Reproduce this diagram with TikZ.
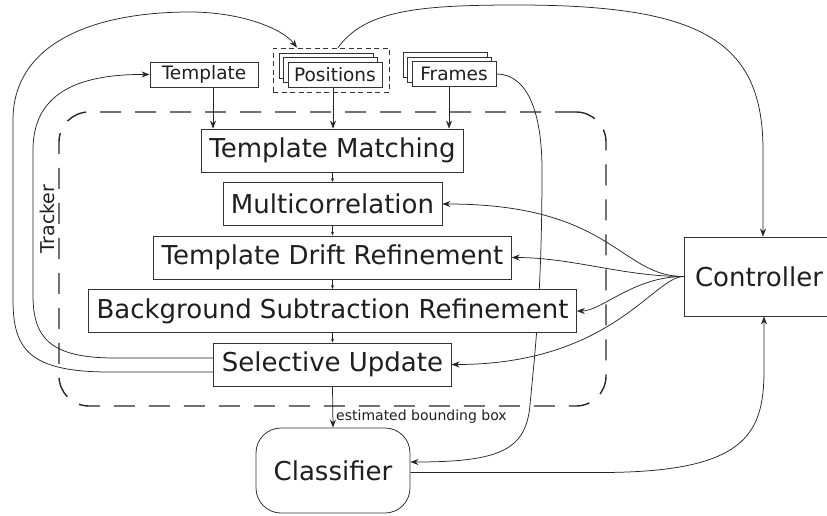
\documentclass[tikz,border=0pt]{standalone}
\usepackage{fontspec}
\setmainfont{DejaVu Sans}
\usetikzlibrary{arrows.meta,shadows,backgrounds}

\begin{document}
\begin{tikzpicture}[x=1pt,y=-1pt,
  stage/.style={draw=black!80, fill=white, line width=0.8pt, minimum height=43pt,
    inner xsep=8pt, font=\fontsize{26}{30}\selectfont, text=black!88},
  datum/.style={draw=black!80, fill=white, line width=0.8pt, minimum height=25pt,
    inner sep=0pt, font=\fontsize{18.5}{22}\selectfont, text=black!88},
  stack/.style={datum, double copy shadow={shadow xshift=-4.5pt, shadow yshift=4.5pt,
    draw=black!80, fill=white, line width=0.8pt}},
  flow/.style={draw=black!85, line width=0.75pt, -{Stealth[length=8pt,width=6pt]}},
  chainarrow/.style={draw=black!85, line width=0.6pt, -{Stealth[length=4pt,width=3pt]}},
]
\useasboundingbox (0,0) rectangle (827,515);

% tracker boundary and its label
\node[draw=black!85, line width=1.4pt, dash pattern=on 21pt off 14pt, rounded corners=30pt,
  minimum width=547pt, minimum height=294pt] (tracker) at (332.5,259) {};
\node[font=\fontsize{19}{22}\selectfont, text=black!88, rotate=90] (trk) at (47,219) {Tracker};

% processing stages
\node[stage] (tm)  at (332.5,150.5) {Template Matching};
\node[stage] (mc)  at (332.5,204)   {Multicorrelation};
\node[stage] (tdr) at (332.5,257.5) {Template Drift Refinement};
\node[stage] (bsr) at (332.5,311)   {Background Subtraction Refinement};
\node[stage] (su)  at (332.5,364.5) {Selective Update};

% inputs
\node[datum, minimum width=108pt] (tmpl) at (204,74.5) {Template};
\node[draw=black!80, dash pattern=on 5pt off 3.5pt, line width=0.7pt,
  minimum width=116pt, minimum height=44pt] (pg) at (331,70) {};
\node[stack, minimum width=94pt] (pos) at (335,74.5) {Positions};
\node[stack, minimum width=84pt] (frm) at (454,74) {Frames};

% controller and classifier
\node[stage, minimum width=150pt, minimum height=79pt] (ctrl) at (759,276.5) {Controller};
\node[stage, rounded corners=25pt, minimum width=154pt, minimum height=85pt] (cls) at (333,470.5) {Classifier};

\begin{scope}[on background layer]
  % inputs into template matching
  \draw[flow] ([xshift=9pt]tmpl.south) -- ([xshift=9pt]tmpl.south |- tm.north);
  \draw[flow] ([xshift=-2pt]pos.south) -- ([xshift=-2pt]pos.south |- tm.north);
  \draw[flow] ([xshift=-5pt]frm.south) -- ([xshift=-5pt]frm.south |- tm.north);

  % tracker pipeline
  \draw[chainarrow] (tm.south) -- (mc.north);
  \draw[chainarrow] (mc.south) -- (tdr.north);
  \draw[chainarrow] (tdr.south) -- (bsr.north);
  \draw[chainarrow] (bsr.south) -- (su.north);
  \draw[flow] (su.south) -- node[pos=0.74, right, inner sep=3pt,
    font=\fontsize{14}{16}\selectfont, text=black!88] (ebb) {estimated bounding box} (cls.north);

  % feedback from selective update
  \draw[flow] ([yshift=6.5pt]su.west) -- (115,358) .. controls (50,358) and (33,338) .. (33,295)
    -- (33,150) .. controls (33,95) and (75,74) .. (tmpl.west);
  \draw[flow] ([yshift=-7.5pt]su.west) -- (110,372) .. controls (30,372) and (13,350) .. (13,300)
    -- (13,120) .. controls (13,45) and (90,12) .. (190,12)
    .. controls (240,12) and (282,28) .. ([xshift=-34pt]pg.north);

  % positions to controller
  \draw[flow] ([xshift=7pt]pg.north) .. controls (365,10) and (420,5) .. (517,5)
    .. controls (700,5) and (763,40) .. (763,150) -- ([xshift=4pt]ctrl.north);

  % frames to classifier
  \draw[flow] (frm.east) .. controls +(30,0) and (542,110) .. (542,170)
    .. controls (542,300) and (534,360) .. (530,405)
    .. controls (526,450) and (500,462) .. ([yshift=8.5pt]cls.east);

  % classifier to controller
  \draw[flow] ([yshift=-2pt]cls.east) -- (600,472.5) .. controls (745,472.5) and (764,435) .. (764,370)
    -- ([xshift=5pt]ctrl.south);

  % controller to the tracker stages
  \draw[flow] (ctrl.west) .. controls +(-64,0) and +(170,0) .. (mc.east);
  \draw[flow] (ctrl.west) .. controls +(-60,0) and +(60,0) .. (tdr.east);
  \draw[flow] (ctrl.west) .. controls +(-50,0) and +(25,0) .. (bsr.east);
  \draw[flow] (ctrl.west) .. controls +(-30,0) and +(160,0) .. (su.east);
\end{scope}
\end{tikzpicture}
\end{document}
